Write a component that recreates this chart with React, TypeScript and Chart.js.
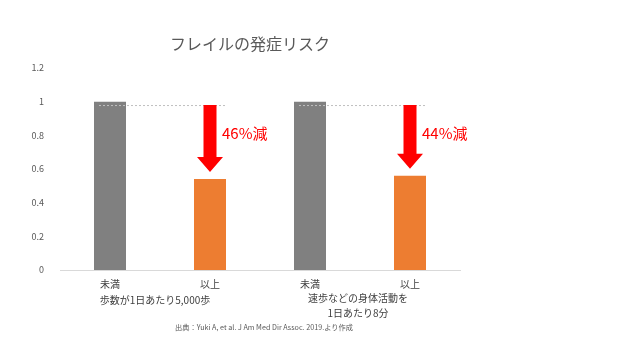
import React, { useEffect, useRef } from "react";
import { Chart, registerables } from "chart.js";

Chart.register(...registerables);

const chartTitle = "フレイルの発症リスク";
const categories = ["未満", "以上", "未満", "以上"];
const riskValues = [1, 0.54, 1, 0.56];
const barColors = ["#808080", "#ED7D31", "#808080", "#ED7D31"];
const groupLabels = [["歩数が1日あたり5,000歩"], ["速歩などの身体活動を", "1日あたり8分"]];
const reductionLabels = ["46%減", "44%減"];
const referenceLevel = 0.98;
const sourceText = "出典：Yuki A, et al. J Am Med Dir Assoc. 2019.より作成";
const yMin = 0;
const yMax = 1.2;
const yStep = 0.2;

const JP = '"Noto Sans CJK JP", "Noto Sans", sans-serif';

const overlayPlugin = {
  id: "overlay",
  afterDatasetsDraw(chart: any) {
    const ctx = chart.ctx;
    const meta = chart.getDatasetMeta(0);
    const y = chart.scales.y;
    for (let g = 0; g < reductionLabels.length; g++) {
      const base = meta.data[g * 2];
      const low = meta.data[g * 2 + 1];
      const refY = y.getPixelForValue(referenceLevel);
      ctx.save();
      ctx.strokeStyle = "#BFBFBF";
      ctx.lineWidth = 1;
      ctx.setLineDash([2, 2]);
      ctx.beginPath();
      ctx.moveTo(base.x - base.width / 2 + 5, refY + 0.5);
      ctx.lineTo(low.x + low.width / 2 - 1, refY + 0.5);
      ctx.stroke();
      ctx.restore();
      const cx = low.x;
      const tipY = y.getPixelForValue(riskValues[g * 2 + 1]) - 7;
      const headH = 15;
      const shaftHalf = 6.5;
      const headHalf = 13;
      ctx.save();
      ctx.fillStyle = "#FF0000";
      ctx.beginPath();
      ctx.moveTo(cx - shaftHalf, refY);
      ctx.lineTo(cx + shaftHalf, refY);
      ctx.lineTo(cx + shaftHalf, tipY - headH);
      ctx.lineTo(cx + headHalf, tipY - headH);
      ctx.lineTo(cx, tipY);
      ctx.lineTo(cx - headHalf, tipY - headH);
      ctx.lineTo(cx - shaftHalf, tipY - headH);
      ctx.closePath();
      ctx.fill();
      ctx.font = `15px ${JP}`;
      ctx.textAlign = "left";
      ctx.textBaseline = "middle";
      ctx.fillText(reductionLabels[g], cx + 12, y.getPixelForValue(0.81));
      ctx.restore();
    }
  },
  afterDraw(chart: any) {
    const ctx = chart.ctx;
    const x = chart.scales.x;
    const area = chart.chartArea;
    ctx.save();
    ctx.fillStyle = "#595959";
    ctx.font = `16px ${JP}`;
    ctx.textAlign = "center";
    ctx.textBaseline = "middle";
    ctx.fillText(chartTitle, (area.left + area.right) / 2 - 10, 44);
    ctx.fillStyle = "#404040";
    ctx.font = `10px ${JP}`;
    groupLabels.forEach((lines, g) => {
      const cx = (x.getPixelForValue(g * 2) + x.getPixelForValue(g * 2 + 1)) / 2;
      const single = lines.length === 1;
      lines.forEach((line, i) => {
        ctx.fillText(line, cx - (single ? 5 : 2), area.bottom + (single ? 30 : 28) + i * 15);
      });
    });
    ctx.fillStyle = "#595959";
    ctx.font = `7.2px ${JP}`;
    ctx.fillText(sourceText, (area.left + area.right) / 2 + 4, area.bottom + 57);
    ctx.restore();
  },
};

export default function App() {
  const ref = useRef<HTMLCanvasElement | null>(null);
  useEffect(() => {
    document.body.style.margin = "0";
    const chart = new Chart(ref.current as HTMLCanvasElement, {
      type: "bar",
      data: {
        labels: categories,
        datasets: [
          {
            data: riskValues,
            backgroundColor: barColors,
            borderWidth: 0,
            barPercentage: 0.32,
            categoryPercentage: 1,
          },
        ],
      },
      options: {
        animation: false,
        responsive: false,
        devicePixelRatio: 1,
        layout: { padding: { left: 20, right: 180, top: 68, bottom: 0 } },
        plugins: {
          legend: { display: false },
          title: { display: false },
          tooltip: { enabled: false },
        },
        scales: {
          x: {
            grid: { display: false },
            border: { display: true, color: "#D9D9D9", width: 1 },
            ticks: {
              color: "#404040",
              font: { family: JP, size: 10 },
              padding: 0,
              maxRotation: 0,
            },
            afterFit(scale: any) {
              scale.height = 90;
            },
          },
          y: {
            min: yMin,
            max: yMax,
            grid: { display: false },
            border: { display: false },
            ticks: {
              stepSize: yStep,
              color: "#595959",
              font: { family: JP, size: 9 },
              padding: 8,
              callback: (v: any) => String(Math.round(Number(v) * 10) / 10),
            },
            afterFit(scale: any) {
              scale.width = 40;
            },
          },
        },
      },
      plugins: [overlayPlugin],
    });
    return () => chart.destroy();
  }, []);
  return (
    <div style={{ position: "absolute", left: 0, top: 0, width: 640, height: 360, background: "#fff" }}>
      <canvas ref={ref} width={640} height={360} />
    </div>
  );
}
